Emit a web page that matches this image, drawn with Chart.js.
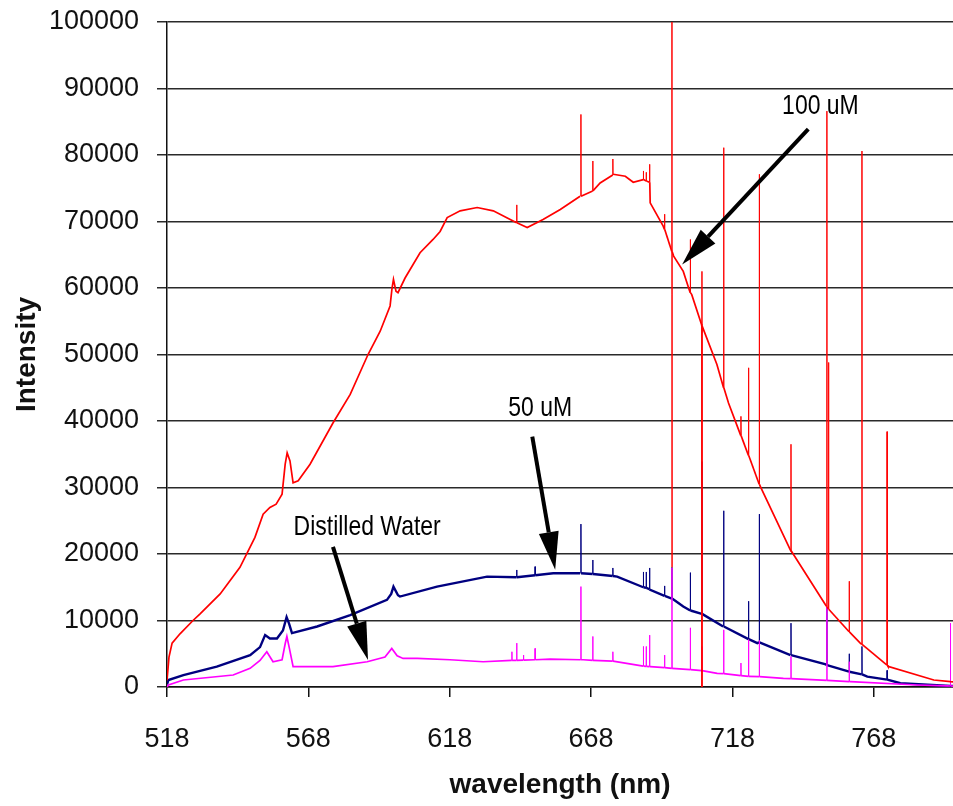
<!DOCTYPE html>
<html lang="en">
<head>
  <meta charset="UTF-8" />
  <title>Intensity vs wavelength</title>
  <script src="https://cdn.jsdelivr.net/npm/chart.js"></script>
  <style>
    html, body { margin: 0; padding: 0; background: #ffffff; }
    #chart { display: block; }
  </style>
</head>
<body>
  <canvas id="chart" width="953" height="806"></canvas>

  <script>
    // axis ticks
    const xTicks = [518, 568, 618, 668, 718, 768];
    const yTicks = [0, 10000, 20000, 30000, 40000, 50000, 60000, 70000, 80000, 90000, 100000];

    // 100 uM - smooth part of the spectrum
    const redNm  = [518.0, 518.7, 519.8, 522.6, 527.2, 529.7, 536.8, 543.8, 549.1, 552.0, 554.4, 556.6, 558.7, 559.8, 560.5, 561.5, 562.6, 564.4, 568.6, 576.7, 582.8, 589.1, 593.4, 596.9, 597.6, 598.1, 599.0, 599.7, 602.2, 607.5, 612.1, 614.6, 617.1, 621.7, 627.7, 633.4, 639.4, 645.4, 651.0, 657.1, 664.1, 671.2, 675.8, 680.1, 682.9, 688.9, 693.5, 697.2, 700.6, 703.6, 707.0, 712.5, 716.6, 727.8, 738.5, 751.0, 763.2, 773.0, 789.2, 795.1, 796.0];
    const redVal = [1000, 4500, 6600, 8000, 10000, 11000, 14000, 18000, 22500, 26000, 27000, 27500, 29000, 33500, 35200, 34000, 30700, 31000, 33500, 39700, 44000, 50000, 53500, 57300, 60000, 61300, 59500, 59300, 61500, 65300, 67300, 68500, 70600, 71600, 72100, 71600, 70300, 69100, 70300, 71800, 73800, 75800, 77100, 76800, 75900, 72800, 69300, 64800, 62500, 59000, 54600, 48500, 42700, 30200, 20600, 12300, 6600, 3100, 1050, 800, 780];
    // 100 uM - narrow lines (top, base, and dropout where the trace falls)
    const redSpikeNm   = [641.7, 664.4, 668.6, 675.7, 686.5, 687.5, 688.7, 694.0, 696.6, 703.1, 707.2, 714.9, 721.0, 723.7, 727.5, 738.7, 751.4, 752.0, 759.3, 763.8, 772.7];
    const redSpikeTop  = [72500, 86100, 79100, 79400, 77600, 77400, 78600, 71100, 101000, 67300, 62500, 81100, 40700, 48000, 77100, 36500, 86600, 48800, 15900, 80600, 38400];
    const redSpikeBase = [69800, 73800, 74600, 77000, 76300, 76100, 75900, 68800, 65500, 59300, 54300, 45000, 37800, 34800, 30500, 20500, 12100, 11700, 8300, 6400, 3300];
    const redSpikeLow  = [null, null, null, null, null, null, null, null, 18000, null, 0, null, null, null, null, null, null, null, null, null, null];

    // 50 uM
    const blueNm  = [518.0, 518.5, 523.8, 535.6, 547.4, 550.9, 552.7, 554.4, 556.9, 559.0, 560.3, 561.2, 562.2, 571.1, 582.8, 595.8, 597.3, 598.1, 599.7, 600.4, 613.5, 631.2, 654.6, 664.1, 677.2, 688.9, 700.6, 714.7, 726.8, 738.5, 751.0, 765.7, 777.4, 795.1, 796.0];
    const blueVal = [400, 1050, 1800, 3060, 4800, 6000, 7800, 7300, 7300, 8500, 10500, 9500, 8100, 9100, 10800, 13100, 14000, 15100, 13800, 13600, 15100, 16600, 17100, 17100, 16600, 14600, 12100, 9100, 6600, 4800, 3400, 1550, 560, 150, 140];
    const blueSpikeNm   = [641.7, 648.2, 664.4, 668.6, 675.7, 686.5, 687.5, 688.7, 694.0, 696.6, 703.1, 707.2, 714.9, 723.7, 727.5, 738.7, 751.4, 759.3, 763.8, 772.7];
    const blueSpikeTop  = [17600, 18100, 24500, 19100, 17900, 17300, 17300, 17900, 15200, 18000, 17200, 33900, 26500, 12900, 26000, 9600, 12000, 5000, 6100, 2500];
    const blueSpikeBase = [16500, 16800, 17100, 17000, 16700, 15000, 14900, 14700, 13700, 13300, 11500, 11000, 9100, 7200, 6700, 4800, 3300, 2300, 1900, 1100];

    // Distilled Water
    const pinkNm  = [518.0, 518.5, 523.8, 541.4, 547.4, 550.9, 553.3, 555.5, 558.7, 559.8, 560.4, 561.2, 562.6, 576.7, 588.8, 595.1, 597.5, 599.4, 601.5, 606.5, 618.1, 629.8, 653.5, 665.2, 688.9, 712.6, 736.0, 759.7, 783.4, 794.0, 796.0];
    const pinkVal = [0, 300, 1050, 1800, 2800, 4000, 5300, 3800, 4100, 6500, 7600, 6000, 3060, 3060, 3800, 4500, 5800, 4700, 4300, 4300, 4100, 3800, 4200, 4100, 3060, 2060, 1300, 800, 300, 170, 140];
    const pinkSpikeNm   = [640.0, 641.7, 644.1, 648.2, 664.4, 668.6, 675.7, 686.5, 687.5, 688.7, 694.0, 696.6, 703.1, 707.2, 714.9, 721.0, 723.7, 727.5, 738.7, 751.4, 759.3, 795.1];
    const pinkSpikeTop  = [5300, 6600, 4800, 5800, 15100, 7600, 5300, 6100, 6100, 7800, 4800, 17900, 8900, 6100, 8600, 3600, 7100, 7000, 4600, 12100, 3800, 9600];
    const pinkSpikeBase = [4000, 4000, 4050, 4100, 4100, 4000, 3900, 3150, 3100, 3060, 2900, 2800, 2600, 2450, 2000, 1700, 1600, 1550, 1250, 1000, 800, 150];

    // merge the smooth trace with its spikes, ordered by wavelength
    function buildSeries(nm, val, sNm, sTop, sBase, sLow) {
      const pts = nm.map((x, i) => ({ x: x, y: val[i] }));
      sNm.forEach((x, i) => {
        pts.push({ x: x - 0.05, y: sBase[i] });
        pts.push({ x: x, y: sTop[i] });
        if (sLow && sLow[i] !== null) pts.push({ x: x + 0.02, y: sLow[i] });
        pts.push({ x: x + 0.05, y: sBase[i] });
      });
      return pts.sort((a, b) => a.x - b.x);
    }

    const FONT = '"Liberation Sans", Arial, Helvetica, sans-serif';

    // thin segments for the narrow lines
    const spikeWidth = (w) => (c) => Math.abs(c.p1.parsed.x - c.p0.parsed.x) < 0.1 ? 1 : w;

    // arrows and labels
    const notes = [
      { text: '100 uM', at: [749.1, 87350], tail: [744.8, 83900], tip: [700.2, 63550] },
      { text: '50 uM', at: [650.0, 41870], tail: [647.2, 37650], tip: [655.3, 17620] },
      { text: 'Distilled Water', at: [588.8, 23950], tail: [576.7, 21080], tip: [589.1, 4070] }
    ];

    function drawArrow(ctx, x0, y0, x1, y1, len, w) {
      const a = Math.atan2(y1 - y0, x1 - x0);
      const bx = x1 - len * Math.cos(a), by = y1 - len * Math.sin(a);
      ctx.lineWidth = 4;
      ctx.beginPath();
      ctx.moveTo(x0, y0);
      ctx.lineTo(bx, by);
      ctx.stroke();
      ctx.beginPath();
      ctx.moveTo(x1, y1);
      ctx.lineTo(bx + w / 2 * Math.sin(a), by - w / 2 * Math.cos(a));
      ctx.lineTo(bx - w / 2 * Math.sin(a), by + w / 2 * Math.cos(a));
      ctx.closePath();
      ctx.fill();
    }

    const notesPlugin = {
      id: 'notes',
      afterDatasetsDraw(chart) {
        const ctx = chart.ctx, xs = chart.scales.x, ys = chart.scales.y;
        ctx.save();
        ctx.fillStyle = '#000';
        ctx.strokeStyle = '#000';
        notes.forEach(n => {
          drawArrow(ctx,
            xs.getPixelForValue(n.tail[0]), ys.getPixelForValue(n.tail[1]),
            xs.getPixelForValue(n.tip[0]), ys.getPixelForValue(n.tip[1]), 38, 20);
          ctx.save();
          ctx.translate(xs.getPixelForValue(n.at[0]), ys.getPixelForValue(n.at[1]));
          ctx.scale(0.82, 1);
          ctx.font = '28px ' + FONT;
          ctx.textAlign = 'center';
          ctx.textBaseline = 'middle';
          ctx.fillText(n.text, 0, 0);
          ctx.restore();
        });
        ctx.restore();
      }
    };

    const ctx = document.getElementById('chart').getContext('2d');
    new Chart(ctx, {
      type: 'line',
      data: {
        datasets: [
          {
            label: '100 uM',
            data: buildSeries(redNm, redVal, redSpikeNm, redSpikeTop, redSpikeBase, redSpikeLow),
            borderColor: '#ff0000',
            borderWidth: 1.7,
            segment: { borderWidth: spikeWidth(1.7) }
          },
          {
            label: 'Distilled Water',
            data: buildSeries(pinkNm, pinkVal, pinkSpikeNm, pinkSpikeTop, pinkSpikeBase, null),
            borderColor: '#ff00ff',
            borderWidth: 1.7,
            segment: { borderWidth: spikeWidth(1.7) }
          },
          {
            label: '50 uM',
            data: buildSeries(blueNm, blueVal, blueSpikeNm, blueSpikeTop, blueSpikeBase, null),
            borderColor: '#000080',
            borderWidth: 2.4,
            segment: { borderWidth: spikeWidth(2.4) }
          }
        ]
      },
      options: {
        responsive: false,
        animation: false,
        devicePixelRatio: 1,
        elements: { point: { radius: 0 }, line: { tension: 0 } },
        layout: { padding: { top: 22, left: 0, right: 0, bottom: 0 } },
        plugins: { legend: { display: false }, tooltip: { enabled: false } },
        scales: {
          x: {
            type: 'linear',
            min: 518,
            max: 796,
            afterBuildTicks: (s) => { s.ticks = xTicks.map(v => ({ value: v })); },
            afterFit: (s) => { s.height = 119; s.paddingLeft = 0; s.paddingRight = 0; },
            ticks: {
              callback: (v) => String(v),
              autoSkip: false,
              maxRotation: 0,
              padding: 26,
              color: '#111',
              font: { family: FONT, size: 27 }
            },
            grid: { drawOnChartArea: false, drawTicks: true, tickLength: 10, color: '#111', lineWidth: 1.5 },
            border: { color: '#111', width: 1.5 },
            title: {
              display: true,
              text: 'wavelength (nm)',
              color: '#111',
              font: { family: FONT, size: 28, weight: 'bold' },
              padding: { top: 0, bottom: 4 }
            }
          },
          y: {
            min: 0,
            max: 100000,
            afterBuildTicks: (s) => { s.ticks = yTicks.map(v => ({ value: v })); },
            afterFit: (s) => { s.width = 167; s.paddingTop = 0; s.paddingBottom = 0; },
            ticks: {
              callback: (v) => String(v),
              padding: 18,
              color: '#111',
              font: { family: FONT, size: 27 }
            },
            grid: { color: '#2a2a2a', lineWidth: 1.5, tickLength: 10 },
            border: { color: '#111', width: 1.5 },
            title: {
              display: true,
              text: 'Intensity',
              color: '#111',
              font: { family: FONT, size: 28, weight: 'bold' },
              padding: { top: 10, bottom: 0 }
            }
          }
        }
      },
      plugins: [notesPlugin]
    });
  </script>
</body>
</html>
